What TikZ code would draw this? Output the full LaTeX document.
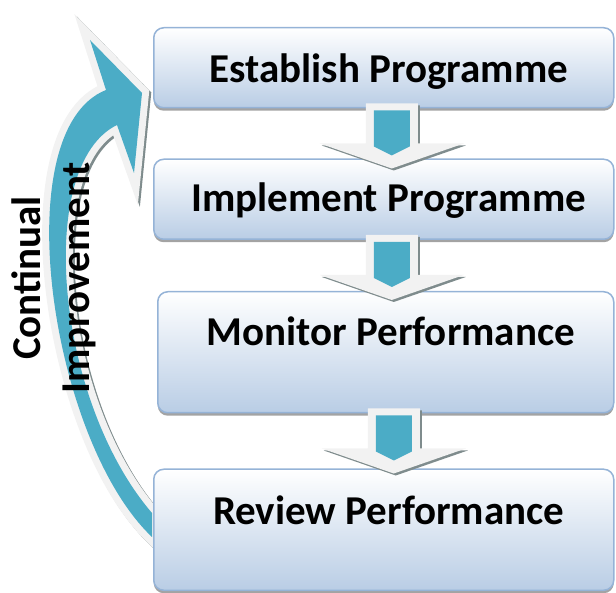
\documentclass[tikz,border=0pt]{standalone}
\usepackage{fontspec}
\setmainfont{Carlito}
\usepackage{xcolor}
\usepackage{tikz}
\usetikzlibrary{calc}
\usetikzlibrary{positioning}
\usetikzlibrary{shadows}
\definecolor{arrowteal}{HTML}{4BACC6}
\definecolor{halogray}{HTML}{F2F2F2}
\definecolor{halodark}{HTML}{7F8C8D}
\definecolor{boxline}{HTML}{95B3D7}
\definecolor{boxbot}{HTML}{B9CDE5}
\tikzstyle{block} = [rectangle, draw=boxline, line width=1.5pt, rounded corners=10pt,
    top color=white, bottom color=boxbot, minimum width=460pt,
    drop shadow={shadow xshift=0pt, shadow yshift=-3pt, fill=black!60, opacity=.6}]
\tikzstyle{steptext} = [font=\fontsize{41}{49}\selectfont\bfseries, inner sep=0pt]
\tikzstyle{halo} = [line width=14pt, line join=miter]
\newcommand{\loopshape}{(152,537) .. controls (50,440) and (5,130) .. (106,90)
    -- (90,40) -- (142,93) -- (134,173) -- (117,125)
    .. controls (35,165) and (55,400) .. (152,513) -- cycle}

\begin{document}
\begin{tikzpicture}[x=1pt, y=-1pt]
    \useasboundingbox (0,0) rectangle (616,593);

    \path[halo, draw=halodark, fill=halodark, shift={(2,2)}] \loopshape;
    \path[halo, draw=halogray, fill=halogray] \loopshape;
    \fill[arrowteal] \loopshape;

    \node[block, minimum height=80pt, anchor=north west] (b1) at (153,27) {};
    \node[block, minimum height=80pt, below=50pt of b1] (b2) {};
    \node[block, minimum height=121pt, minimum width=456pt, below=51pt of b2, xshift=2pt] (b3) {};
    \node[block, minimum height=121pt, below=55pt of b3, xshift=-2pt] (b4) {};

    \foreach \a in {b1,b2,b3} {
        \coordinate (top) at ($(\a.south)+(8,-5)$);
        \fill[halodark] ($(top)+(-24,2)$) -- ++(52,0) -- ++(0,40) -- ++(46,0)
            -- ++(-72,25) -- ++(-72,-25) -- ++(46,0) -- cycle;
        \fill[halogray] ($(top)+(-26,0)$) -- ++(52,0) -- ++(0,40) -- ++(46,0)
            -- ++(-72,25) -- ++(-72,-25) -- ++(46,0) -- cycle;
        \fill[arrowteal] ($(top)+(-18,7)$) -- ++(36,0) -- ++(0,36)
            -- ++(-18,9) -- ++(-18,-9) -- cycle;
    }

    \node[steptext] (t1) at ($(b1.north)+(5,45)$) {Establish Programme};
    \node[steptext] (t2) at ($(b2.north)+(5,42)$) {Implement Programme};
    \node[steptext] (t3) at ($(b3.north)+(5,40)$) {Monitor Performance};
    \node[steptext] (t4) at ($(b4.north)+(5,42)$) {Review Performance};

    \node[steptext, rotate=90, align=center] (cilabel) at (54,278) {Continual\\Improvement};
\end{tikzpicture}
\end{document}
